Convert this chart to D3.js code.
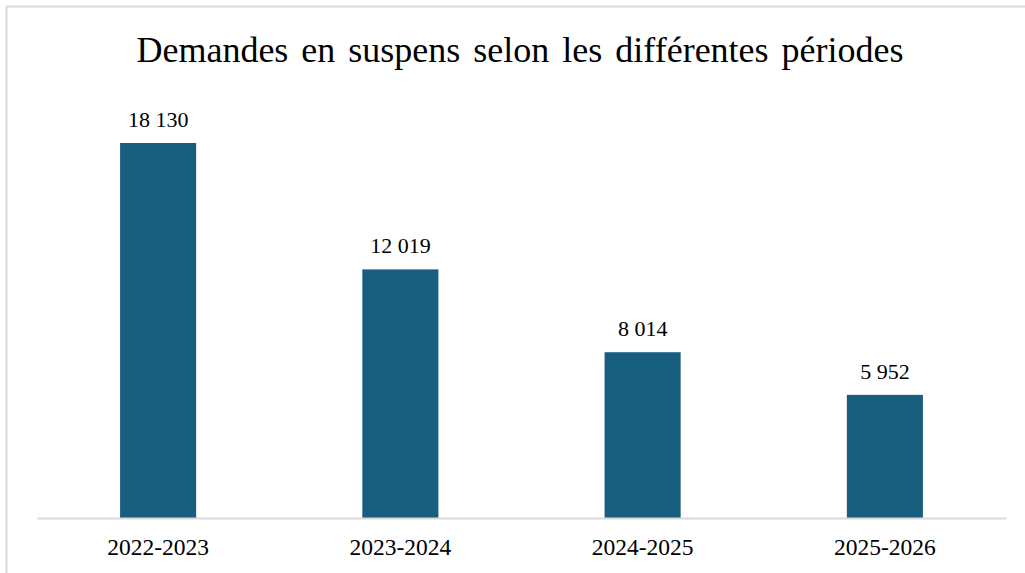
<!DOCTYPE html>
<html>
<head>
<meta charset="utf-8">
<script src="https://cdn.jsdelivr.net/npm/d3@7"></script>
<style>
  html, body { margin: 0; padding: 0; background: #fff; }
  svg { display: block; }
</style>
</head>
<body>
<svg id="chart" width="1025" height="573"></svg>
<script>
const categories = ["2022-2023", "2023-2024", "2024-2025", "2025-2026"];
const values = [18130, 12019, 8014, 5952];
const title = "Demandes en suspens selon les différentes périodes";

const W = 1025, H = 573;
const svg = d3.select("#chart");
const font = "'Liberation Serif', 'Times New Roman', serif";

// frame
svg.append("rect").attr("x", 0).attr("y", 0).attr("width", W).attr("height", H).attr("fill", "#fff");
svg.append("line").attr("x1", 6).attr("x2", W).attr("y1", 6.5).attr("y2", 6.5)
  .attr("stroke", "#d9d9d9").attr("stroke-width", 2);
svg.append("line").attr("x1", 6.5).attr("x2", 6.5).attr("y1", 6).attr("y2", H)
  .attr("stroke", "#d9d9d9").attr("stroke-width", 2);

const x = d3.scaleBand().domain(categories).range([37, 1006]).paddingInner(0.686).paddingOuter(0.343);
const y = d3.scaleLinear().domain([0, 20000]).range([518, 104.3]);

svg.append("text")
  .attr("x", 520).attr("y", 62)
  .attr("text-anchor", "middle")
  .attr("font-family", font).attr("font-size", 36)
  .attr("word-spacing", 4)
  .attr("fill", "#000")
  .text(title);

svg.selectAll("rect.bar").data(values).join("rect")
  .attr("class", "bar")
  .attr("x", (d, i) => x(categories[i]))
  .attr("width", x.bandwidth())
  .attr("y", d => y(d))
  .attr("height", d => y(0) - y(d))
  .attr("fill", "#175E7F");

const fmt = d => d3.format(",")(d).replace(/,/g, " ");
svg.selectAll("text.lbl").data(values).join("text")
  .attr("class", "lbl")
  .attr("x", (d, i) => x(categories[i]) + x.bandwidth() / 2)
  .attr("y", d => y(d) - 16)
  .attr("text-anchor", "middle")
  .attr("font-family", font).attr("font-size", 22)
  .attr("fill", "#000")
  .text(fmt);

const axis = svg.append("g").attr("transform", `translate(0,${y(0)})`)
  .call(d3.axisBottom(x).tickSize(0).tickPadding(0));
axis.select(".domain").attr("stroke", "#d9d9d9").attr("stroke-width", 2);
axis.selectAll("text")
  .attr("font-family", font).attr("font-size", 23.5).attr("fill", "#000")
  .attr("dy", null).attr("y", 37);
</script>
</body>
</html>
